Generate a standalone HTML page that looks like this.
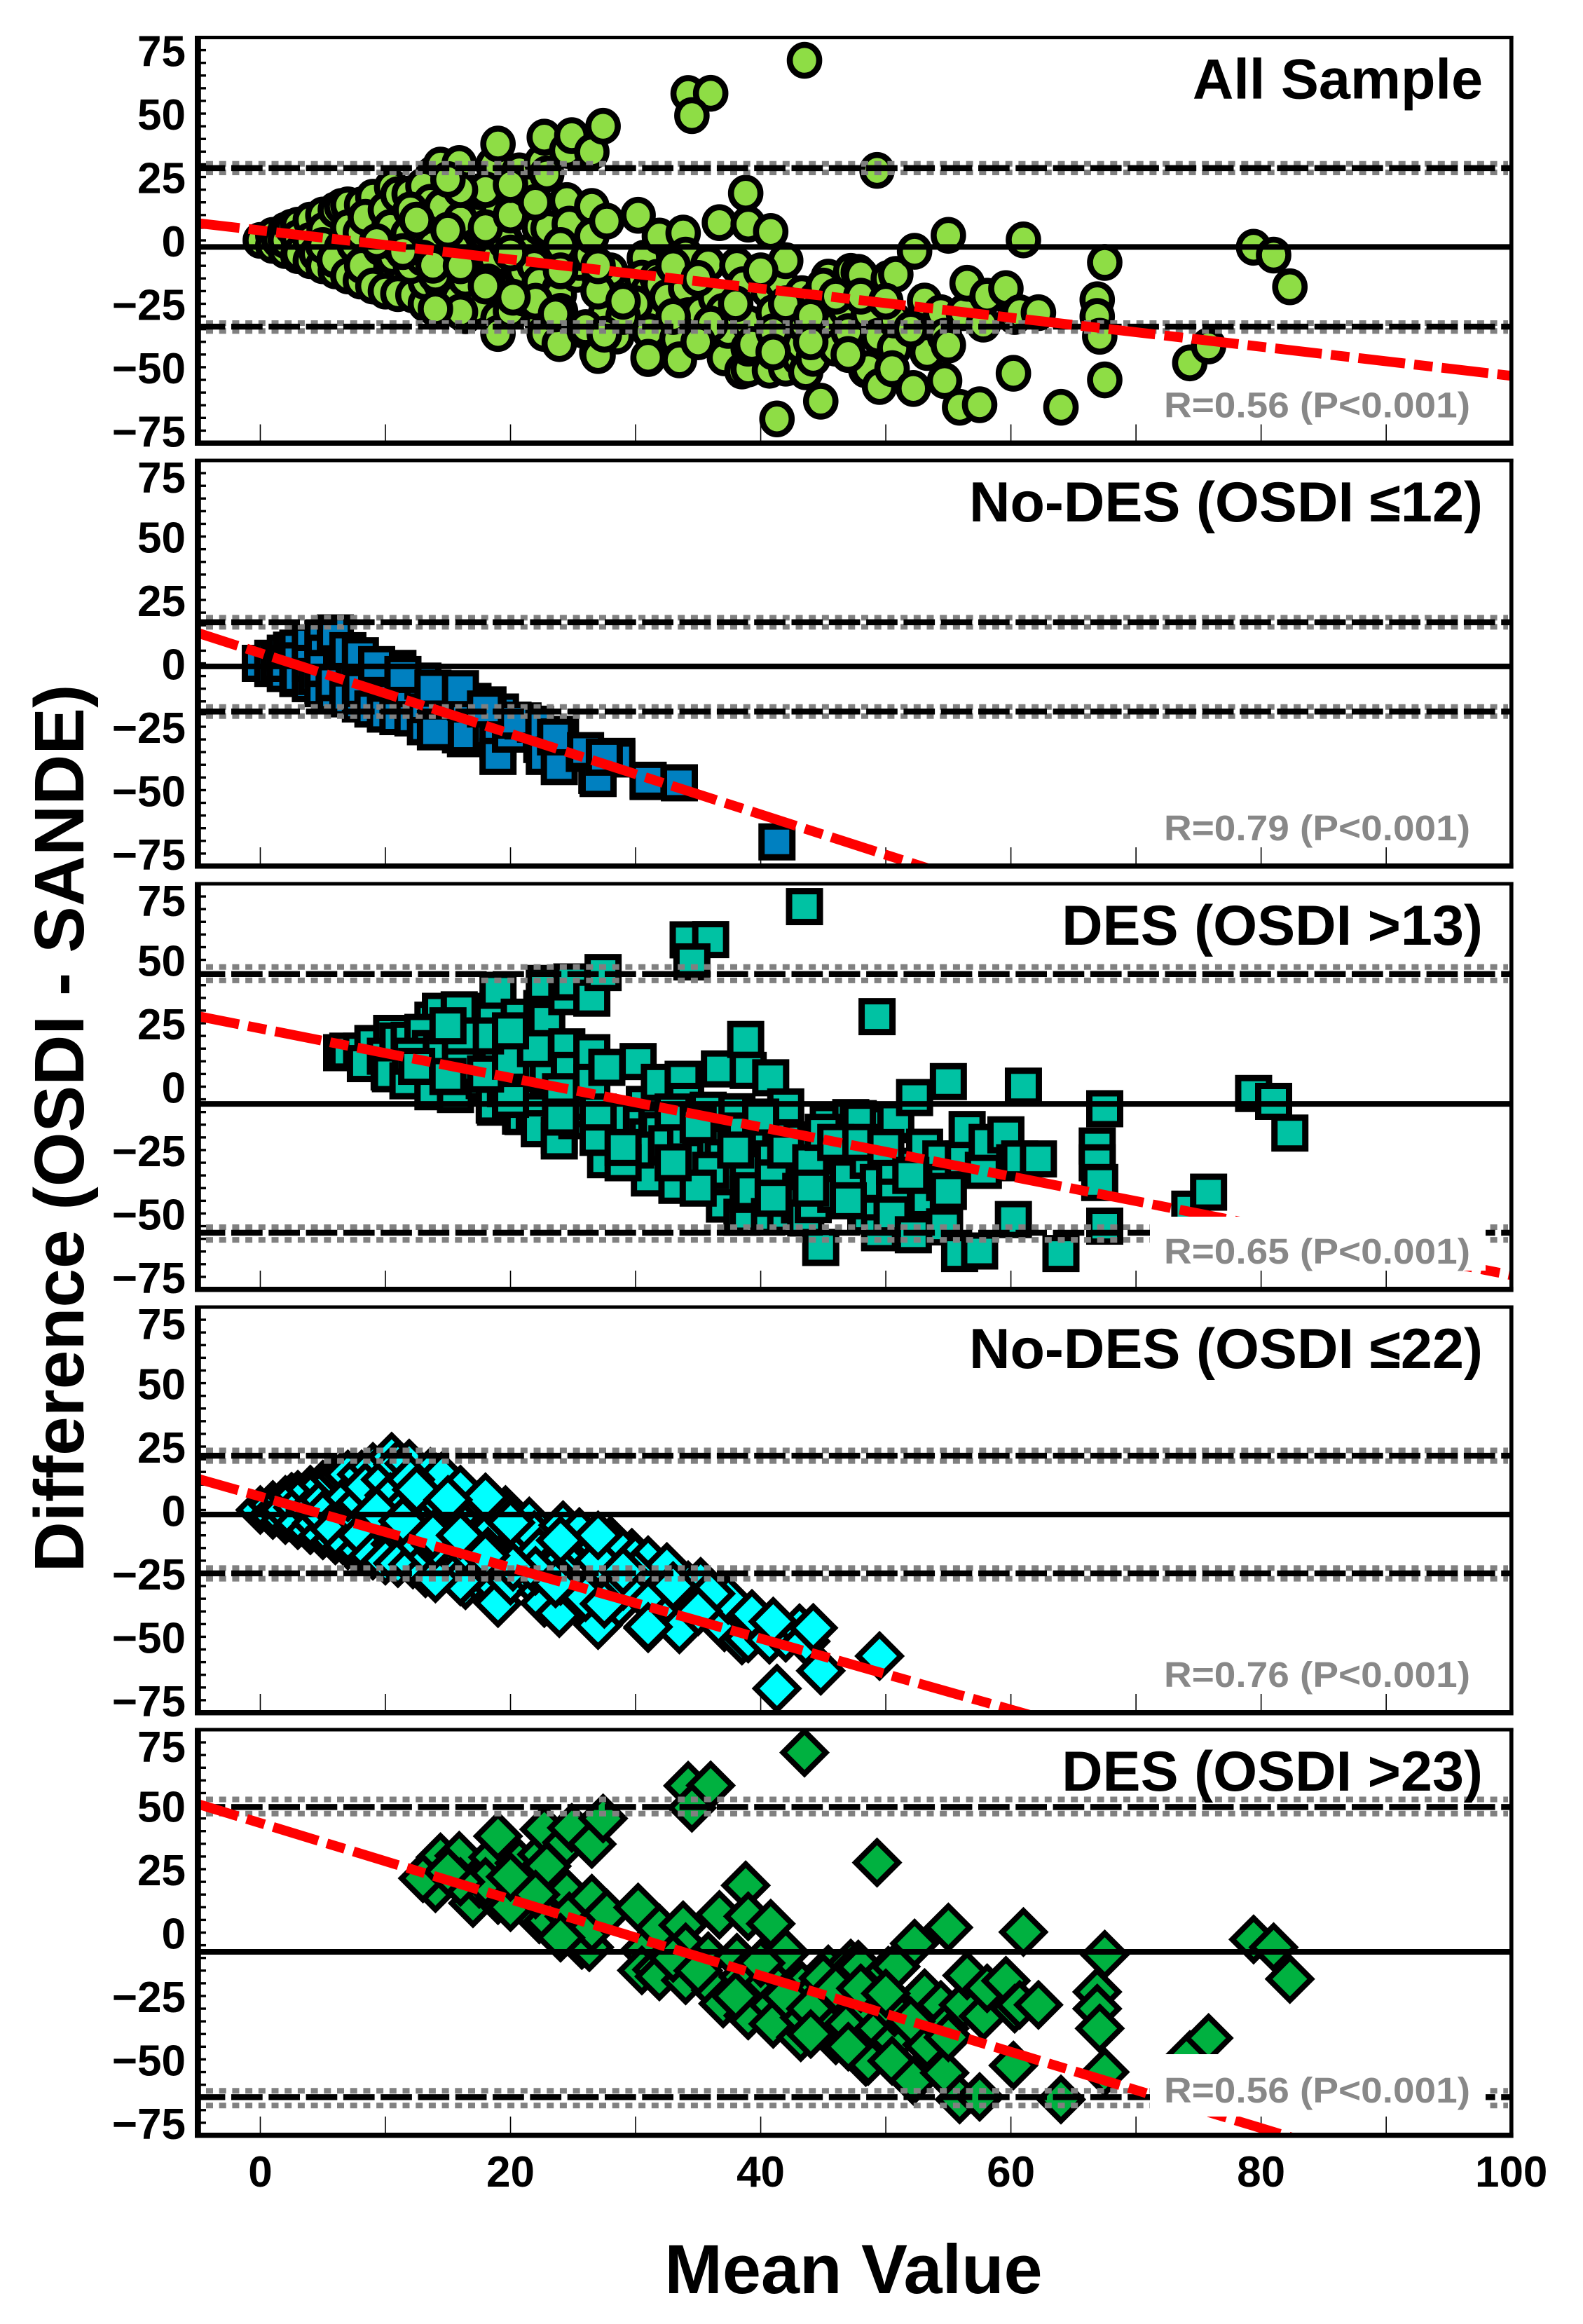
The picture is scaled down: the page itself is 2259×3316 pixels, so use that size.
<!DOCTYPE html>
<html lang="en">
<head>
<meta charset="utf-8">
<title>Bland-Altman plots: OSDI vs SANDE</title>
<style>
html,body{margin:0;padding:0;background:#fff;}
svg{display:block;font-family:"Liberation Sans",Arial,sans-serif;font-weight:bold;}
</style>
</head>
<body>
<svg id="figure" xmlns="http://www.w3.org/2000/svg" width="2259" height="3316" viewBox="0 0 2259 3316">
  <rect x="0" y="0" width="2259" height="3316" fill="#fff"/>
  <g id="panels"></g>
  <text transform="translate(119,1610) rotate(-90)" text-anchor="middle" font-size="100" fill="#000">Difference (OSDI - SANDE)</text>
  <text x="1218" y="3272" text-anchor="middle" font-size="99" fill="#000">Mean Value</text>
</svg>
<script>
// ---------- sample values: mean of the two scores, and OSDI minus SANDE ----------
const means = [
0,1,1,1.5,2,2,2,2.5,3,3,
3,3.1,4,4,4,4.5,5,5,5.1,5,
6,6,6.5,6.5,5.9,7,7,7.5,7,8.1,
8,8.3,8.1,8,9,9,9.6,8.4,10.5,10.3,
10.8,10.6,10,10,11,11,11,11.9,10.4,11.8,
12.2,13.2,13.2,14.4,14,13.8,13.8,14.4,14,13,
15.8,15.8,15.9,16.4,16.8,17.2,17,17.5,16,13.8,
15.6,14,13.6,14.5,17.9,18.6,18.8,18.7,19,19,
19,19,19.2,19.6,19.6,20,20.7,20.8,21,21,
21.3,21.5,21.9,22.3,22.3,22.5,22.5,22.7,22.7,22.9,
23,23.9,23.9,23.9,24.2,24.5,24.5,24.7,24.9,25.3,
25.5,25.7,25.9,26.3,26.5,26.5,26.5,26.9,27.1,27.4,
27.7,27.6,28.5,28.5,29.6,29.7,29.7,30.2,30.7,30.5,
31,31,31.1,31.1,31.7,31.9,31.9,32.5,33.3,33.5,
33.8,34,34,34.2,35.2,35.8,36.4,36.7,37,37.1,
37.2,37.4,38.1,38.5,38.6,38.8,39,39,39,39,
39.3,40.6,40.7,40.8,41,41,41.3,41.6,42,42,
43.1,43.2,43.3,43.5,43.6,44.2,44.4,44.8,45.4,45.8,
46,46.8,47,47.2,47.8,48,48.4,48.6,48.6,49.4,
49.5,50.2,50.7,50.7,50.5,50.8,52.2,52.3,53.1,53.3,
54.4,54.7,54.7,55,55,55.9,56.2,56.5,57.5,57.8,
58.1,59.6,60.2,60.3,60.7,61,62.2,64,66.9,66.9,
67.1,67.5,67.5,74.3,75.8,79.4,81,82.3,49.3,43.5,
34.2,36,34.5,28,30,33,35,36,38,40,
42,44,45,46,48,50,52,44,47,41,
35,29,27,24,22,20,24,17,15,12,
13,16,18,20,22,12,18,20,16,15,
16.4,18.2,20.2,23.6,27,31,14,9.3,11.4,13.8,
26,27.5,12.5,15,16,18,24,27,29,33
];
const diffs = [
0,2,-2,0,4,-4,0,5.2,6,-6,
1,-5.2,8,-8,0,-5.2,10,-10,4,-2,
12,-12,13.4,-2.9,-7.6,14,-14,-1.7,5,14,
-16,-18.6,-9.9,3,17,-18,-2.9,9.1,21,5.8,
-13.4,-6.4,-20,12,18,-21,-2,18.3,5.1,2.3,
-21.5,-25,-16.3,-16.6,-2.9,2.3,26.2,29.7,17.5,21.4,
-6.4,-22.7,30.3,-29.7,1.2,-26.2,11.6,19.2,-28.2,-2,
-3.1,-27,15,13.3,2.4,29.7,-8.1,-7.3,38,12.8,
-30.8,-36.7,-19.2,0,-0.8,-27.9,27.4,-11.6,-22.7,-11.8,
19.2,-4.5,-9.9,5.2,-16.6,30.8,-32,40.7,-36.7,26.2,
4.7,-19.2,-21.4,-40.7,-6,35.5,15.7,6.4,41.3,-13.4,
-8.7,-4.9,-35.5,-5.8,34.9,13.4,1.7,-44.2,-14.6,45,
7.6,-28.8,-36.7,-37.7,-25,-16.9,-17.7,9.9,-7,-14.9,
-46.6,-19.8,-29.7,-36,-14.6,1.7,-17.3,-22.5,-38.9,-47.1,
2.9,-5.8,-18.8,-29.7,-28.3,-9.3,-22.7,7,-28,-46.3,
-34.6,-35.5,-9.9,-51.5,-17.5,18.6,6.4,-50.7,-32.7,-42.5,
-41,-19.8,-51.2,3.5,-28.5,-36,-70.4,-16.3,-50.4,-8,
-46.6,-41.3,-21,-33.5,-51.8,-46.5,-23.3,-63.4,-14.5,-34.9,
-42.5,-27.3,-36,-12.2,-12.6,-13.6,-51,-29,-50.6,-37.8,
-57.6,-15,-42.5,-31.4,-50.6,-13.4,-58.4,-4.3,-23.9,-44.2,
-28.5,-55.3,-37.8,2,-41.3,-65.8,-28.5,-16.9,-64.8,-33,
-22,-19,-52.4,-30,-28.5,0.2,-28.5,-65.8,-23.4,-30,
-37.8,-8.7,-55,-48.3,-41.6,-2.7,-5.8,-18.3,27.6,71,
57.9,58,49.2,-12,-25,-10,-15,-33,-25,-12,
-25,-30,-18,-22,-22,-24,-35,-40,-45,-44,
-40,-30,-20,-28,-24,-5,-2,-15,-12,-10,
-7,8,5,10,15,12,20,22,20,24,
-15.3,-16.4,-22.4,-29,-45.4,-46.1,-13.7,-0.5,-4.4,-9.8,
-34.4,-37,8,4,-10,-18,-12,-10,-24,-30
];

// ---------- per-panel statistics (same order as the panels, top to bottom) ----------
const panelNames = ["all-sample","no-des-osdi-12","des-osdi-13","no-des-osdi-22","des-osdi-23"];
const panelTitles = ["All Sample","No-DES (OSDI \u226412)","DES (OSDI >13)","No-DES (OSDI \u226422)","DES (OSDI >23)"];
const correlationLabels = ["R=0.56 (P<0.001)","R=0.79 (P<0.001)","R=0.65 (P<0.001)","R=0.76 (P<0.001)","R=0.56 (P<0.001)"];
const osdiAbove = [-1,-1,12.7,-1,22.5];
const osdiUpTo = [999,12.5,999,22.5,999];
const meanDifference = [-2.6,-1.2,-6.8,-1.8,-7.6];
const upperLimit = [28.5,16.2,44.4,21.4,49.5];
const upperCiHigh = [30.2,18,47.2,23.5,52.5];
const upperCiLow = [26.8,14.4,41.9,19.3,46.9];
const lowerLimit = [-34,-19,-57.6,-25,-64.9];
const lowerCiHigh = [-32.6,-17.2,-55.4,-22.9,-62.4];
const lowerCiLow = [-35.7,-20.8,-60.4,-27.1,-68.2];
const trendAtLeft = [6.8,12,27.8,12.3,50.7];
const trendAtRight = [-53.4,-155,-74.3,-134.7,-107.2];

// ---------- axis ticks ----------
const xTickLabels = [0,20,40,60,80,100];
const xMinorTicks = [0,10,20,30,40,50,60,70,80,90];
const yTickLabels = [75,50,25,0,-25,-50,-75];
const yMinorTicks = [75,70,65,60,55,50,45,40,35,30,25,20,15,10,5,0,-5,-10,-15,-20,-25,-30,-35,-40,-45,-50,-55,-60,-65,-70,-75];
const xDomain = [-5,100];
const yDomain = [-80,80];

// ---------- layout ----------
const SVGNS = "http://www.w3.org/2000/svg";
const LEFT = 282.2, RIGHT = 2156.7, PANEL_H = 579;
const panelTops = [53.5,657,1261,1865,2468];
const markerFills = ["#8edd45","#0080c0","#00c2a3","#00ffff","#00b140"];
const markerKinds = ["circle","square","square","diamond","diamond"];
const labelBaselines = [542,542,542,542,532];
const maskTops = [null,null,475,null,463];

function xScale(v){ return LEFT + (v - xDomain[0]) / (xDomain[1] - xDomain[0]) * (RIGHT - LEFT); }
function yScale(v, top){ return top + PANEL_H - (v - yDomain[0]) / (yDomain[1] - yDomain[0]) * PANEL_H; }
function mk(tag, attrs, parent, text){
  const el = document.createElementNS(SVGNS, tag);
  for (const k in attrs) el.setAttribute(k, attrs[k]);
  if (text !== undefined) el.textContent = text;
  parent.appendChild(el);
  return el;
}
function drawMarker(parent, kind, cx, cy, fill){
  let el;
  if (kind === "circle") {
    el = mk("ellipse", {cx:cx, cy:cy, rx:21, ry:22, fill:fill, stroke:"#000", "stroke-width":8.6}, parent);
  } else if (kind === "square") {
    el = mk("rect", {x:cx-22, y:cy-22, width:44, height:44, fill:fill, stroke:"#000", "stroke-width":9}, parent);
  } else {
    const r = 30.4;
    el = mk("polygon", {points:(cx-r)+","+cy+" "+cx+","+(cy-r)+" "+(cx+r)+","+cy+" "+cx+","+(cy+r), fill:fill, stroke:"#000", "stroke-width":8, "stroke-linejoin":"miter"}, parent);
  }
  
  
}

const root = document.getElementById("panels");
const defs = mk("defs", {}, root);

panelTops.forEach(function(top, p){
  const bottom = top + PANEL_H;
  const y = function(v){ return yScale(v, top); };

  const panel = mk("g", {}, root);
  
  

  const clip = mk("clipPath", {id:"plot-clip-" + p}, defs);
  mk("rect", {x:LEFT, y:top, width:RIGHT-LEFT, height:PANEL_H}, clip);

  // minor y ticks
  yMinorTicks.forEach(function(t){
    const tick = mk("line", {x1:LEFT, x2:294, y1:y(t), y2:y(t), stroke:"#000", "stroke-width":3.4}, panel);
    
    
  });
  // x ticks
  xMinorTicks.forEach(function(t){
    const tick = mk("line", {x1:xScale(t), x2:xScale(t), y1:bottom-27, y2:bottom-3, stroke:"#000", "stroke-width":1.6}, panel);
    
    
  });

  const plot = mk("g", {"clip-path":"url(#plot-clip-" + p + ")"}, panel);
  
  

  // markers: the samples in this OSDI subgroup
  means.forEach(function(m, i){
    const osdi = m + diffs[i] / 2;
    if (osdi > osdiAbove[p] && osdi <= osdiUpTo[p]) {
      drawMarker(plot, markerKinds[p], xScale(m), y(diffs[i]), markerFills[p]);
    }
  });

  // mean difference
  const meanLine = mk("line", {x1:LEFT, x2:RIGHT, y1:y(meanDifference[p]), y2:y(meanDifference[p]), stroke:"#000", "stroke-width":8}, plot);
  
  

  // confidence limits, then limits of agreement on top
  [upperCiHigh[p], upperCiLow[p], lowerCiHigh[p], lowerCiLow[p]].forEach(function(v){
    const ci = mk("line", {x1:294, x2:2152, y1:y(v), y2:y(v), stroke:"#808080", "stroke-width":8, "stroke-dasharray":"10 8.7"}, plot);
    
    
  });
  [upperLimit[p], lowerLimit[p]].forEach(function(v){
    const limit = mk("line", {x1:276.7, x2:RIGHT, y1:y(v), y2:y(v), stroke:"#000", "stroke-width":8.4, "stroke-dasharray":"44.7 8.6"}, plot);
    
    
  });

  // regression trend
  const trend = mk("line", {x1:xScale(xDomain[0]), x2:xScale(xDomain[1]), y1:y(trendAtLeft[p]), y2:y(trendAtRight[p]), stroke:"#ff0000", "stroke-width":14, "stroke-dasharray":"67 13 26.6 13", "stroke-dashoffset":7}, plot);
  
  

  // white background behind the correlation label
  if (maskTops[p] !== null) {
    const mask = mk("rect", {x:1641, y:top+maskTops[p], width:479, height:552-maskTops[p], fill:"#fff"}, panel);
    
    
  }

  // frame
  const frame = mk("g", {fill:"#000"}, panel);
  
  
  mk("rect", {x:278, y:top-2.5, width:1881.6, height:5}, frame);
  mk("rect", {x:278, y:bottom-4, width:1881.6, height:7.5}, frame);
  mk("rect", {x:278, y:top-2.5, width:8.8, height:PANEL_H+6}, frame);
  mk("rect", {x:2154, y:top-2.5, width:5.6, height:PANEL_H+6}, frame);

  // y tick labels
  yTickLabels.forEach(function(t){
    const nudge = (t === 75 && p > 0) ? 5 : 0;
    const label = mk("text", {x:265, y:y(t)+23+nudge, "text-anchor":"end", "font-size":62, fill:"#000"}, panel, (t < 0 ? "\u2212" + (-t) : String(t)));
    
    
  });

  // panel title and correlation
  const title = mk("text", {x:2116, y:top+87, "text-anchor":"end", "font-size":81, fill:"#000"}, panel, panelTitles[p]);
  
  
  const corr = mk("text", {x:1661, y:top+labelBaselines[p], "font-size":51, fill:"#888888", textLength:437, lengthAdjust:"spacingAndGlyphs"}, panel, correlationLabels[p]);
  
  
});

// x tick labels under the last panel
xTickLabels.forEach(function(t){
  const label = mk("text", {x:xScale(t), y:3120, "text-anchor":"middle", "font-size":62, fill:"#000"}, root, String(t));
  
  
});
</script>
</body>
</html>
